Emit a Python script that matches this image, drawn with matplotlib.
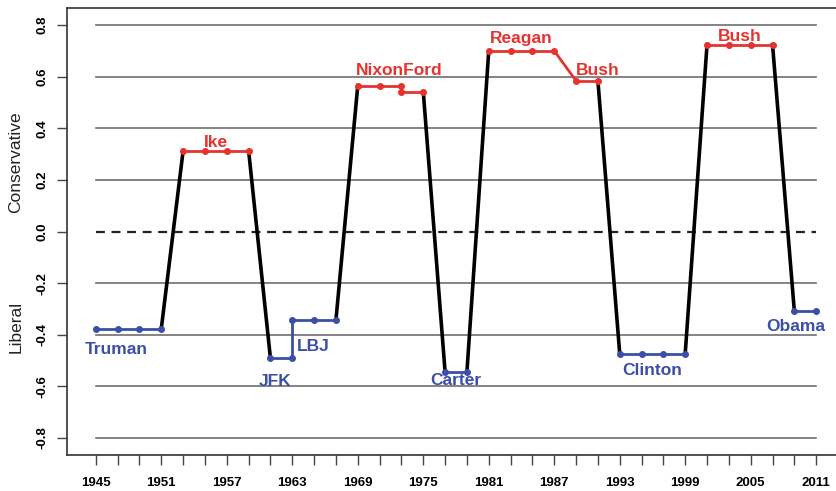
import matplotlib
matplotlib.use("Agg")
import matplotlib.pyplot as plt

plt.rcParams["font.family"] = ["Liberation Sans", "DejaVu Sans"]

# ideology score of each president, one point per congress
names = ["Truman", "Ike", "JFK", "LBJ", "NixonFord", "", "Carter", "Reagan", "Bush", "Clinton", "Bush", "Obama"]
party = ["D", "R", "D", "D", "R", "R", "D", "R", "R", "D", "R", "D"]
years = [
    [1945, 1947, 1949, 1951],
    [1953, 1955, 1957, 1959],
    [1961, 1963],
    [1963, 1965, 1967],
    [1969, 1971, 1973],
    [1973, 1975],
    [1977, 1979],
    [1981, 1983, 1985, 1987],
    [1989, 1991],
    [1993, 1995, 1997, 1999],
    [2001, 2003, 2005, 2007],
    [2009, 2011],
]
scores = [
    [-0.376, -0.376, -0.376, -0.376],
    [0.313, 0.313, 0.313, 0.313],
    [-0.492, -0.492],
    [-0.343, -0.343, -0.343],
    [0.565, 0.565, 0.565],
    [0.542, 0.542],
    [-0.544, -0.544],
    [0.70, 0.70, 0.70, 0.70],
    [0.584, 0.584],
    [-0.473, -0.473, -0.473, -0.473],
    [0.724, 0.724, 0.724, 0.724],
    [-0.309, -0.309],
]
# where each name sits (year, score)
label_x = [1946.9, 1956.0, 1961.4, 1964.9, 1972.8, None, 1978.0, 1984.0, 1991.0, 1996.0, 2004.0, 2009.1]
label_y = [-0.456, 0.344, -0.58, -0.444, 0.622, None, -0.576, 0.746, 0.622, -0.537, 0.754, -0.367]

grid_levels = [-0.8, -0.6, -0.4, -0.2, 0.2, 0.4, 0.6, 0.8]
minor_years = list(range(1945, 2012, 2))
major_years = list(range(1945, 2012, 6))

RED = "#e5332f"
BLUE = "#3b4fa6"
col = {"R": RED, "D": BLUE}

fig = plt.figure(figsize=(8.36, 4.91), dpi=100)
ax = fig.add_axes([67 / 836, 36 / 491, 778 / 836, 447 / 491])

# grey reference lines, dashed zero
for g in grid_levels:
    ax.plot([1945, 2011], [g, g], color="#6e6e6e", lw=1.2, zorder=1)
ax.plot([1945, 2011], [0, 0], color="#222222", lw=1.6, ls=(0, (4, 3)), zorder=1)

# connectors between presidents: black when party changes
for i in range(len(years) - 1):
    x0, y0 = years[i][-1], scores[i][-1]
    x1, y1 = years[i + 1][0], scores[i + 1][0]
    c = "black" if party[i] != party[i + 1] else col[party[i]]
    lw = 2.6 if c == "black" else 2.0
    ax.plot([x0, x1], [y0, y1], color=c, lw=lw, zorder=2)

for i in range(len(years)):
    c = col[party[i]]
    ax.plot(years[i], scores[i], color=c, lw=2.0, marker="o", ms=4, zorder=3)
    if names[i]:
        ax.text(label_x[i], label_y[i], names[i], color=c, fontsize=12.5,
                fontweight="bold", ha="center", va="center", zorder=4)

ax.set_xlim(1942.36, 2013.64)
ax.set_ylim(-0.866, 0.866)

ax.set_xticks(minor_years, minor=True)
ax.set_xticks(major_years)
ax.set_xticklabels([str(y) for y in major_years], fontsize=9.5, fontweight="bold")
ax.tick_params(axis="x", which="both", length=7, width=1, color="#444444", pad=9)

yt = [-0.8, -0.6, -0.4, -0.2, 0.0, 0.2, 0.4, 0.6, 0.8]
ax.set_yticks(yt)
ax.set_yticklabels([f"{v:.1f}".replace("\u2212", "-") for v in yt], rotation=90,
                   va="center", fontsize=9.5, fontweight="bold")
ax.tick_params(axis="y", length=7, width=1, color="#444444", pad=6)

for s in ax.spines.values():
    s.set_color("#333333")
    s.set_linewidth(1.2)

fig.text(16 / 836, 1 - 162 / 491, "Conservative", rotation=90, fontsize=12.5,
         ha="center", va="center", color="#222222")
fig.text(16 / 836, 1 - 327 / 491, "Liberal", rotation=90, fontsize=12.5,
         ha="center", va="center", color="#222222")

fig.savefig("out.png", dpi=100)
